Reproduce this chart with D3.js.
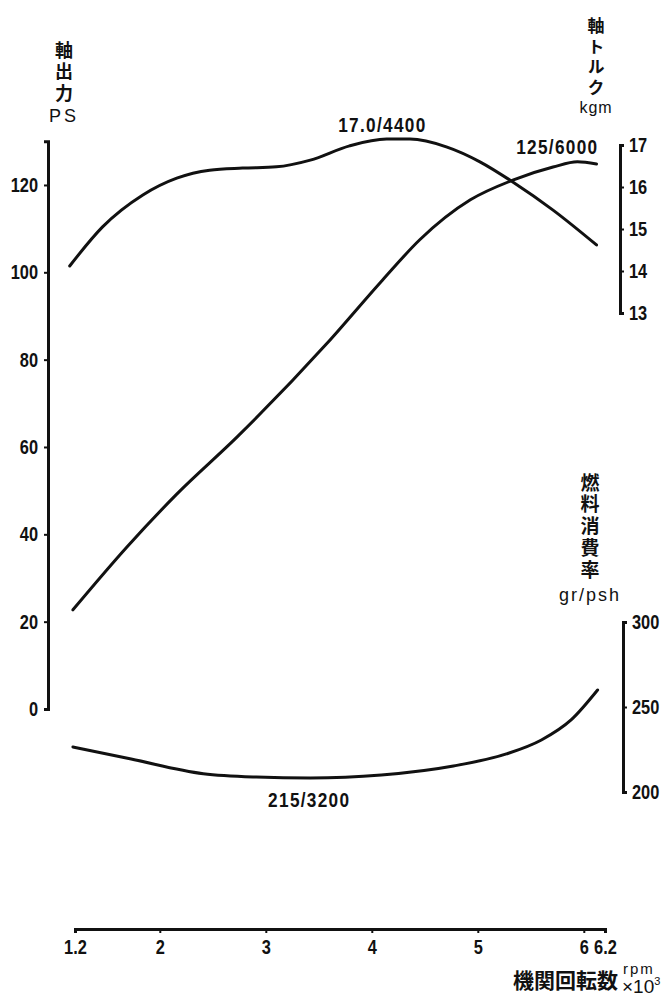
<!DOCTYPE html>
<html>
<head>
<meta charset="utf-8">
<script src="https://cdn.jsdelivr.net/npm/d3@7"></script>
<style>
    body { margin: 0; background: #fff; }
    svg { display: block; }
    .num, .note {
        font-family: "Liberation Sans", Arial, sans-serif;
        font-weight: bold;
        fill: #111;
        transform-box: fill-box;
        transform: scaleX(0.82);
    }
    .num { font-size: 20px; }
    .note { font-size: 21px; letter-spacing: 1.6px; transform-origin: 50% 50%; }
    .jp { font-family: "Noto Sans CJK JP", sans-serif; font-weight: bold; font-size: 18px; fill: #111; }
    .vert { writing-mode: vertical-rl; }
    .unit { font-family: "Liberation Sans", "Noto Sans", sans-serif; font-size: 17px; fill: #111; }
</style>
</head>
<body>
<div id="chart"></div>
<script>
// tick labels
const rpmTicks = [1.2, 2, 3, 4, 5, 6, 6.2];
const psTicks = [0, 20, 40, 60, 80, 100, 120];
const torqueTicks = [13, 14, 15, 16, 17];
const fuelTicks = [200, 250, 300];

// 軸出力 (PS)
const powerRpm = [1.18, 1.69, 2.16, 2.73, 3.58, 4.1, 4.45, 4.93, 5.33, 5.71, 5.94, 6.12];
const powerPS = [22.7, 37.1, 49.2, 62.3, 83.8, 98.2, 107.4, 116.6, 121.1, 124.1, 125.3, 124.8];

// 軸トルク (kgm)
const torqueRpm = [1.15, 1.46, 1.84, 2.16, 2.47, 2.78, 3.1, 3.42, 3.79, 4.14, 4.36, 4.71, 5.02, 5.33, 5.71, 6.12];
const torqueKgm = [14.12, 15.05, 15.81, 16.21, 16.4, 16.45, 16.48, 16.64, 16.98, 17.14, 17.14, 16.95, 16.6, 16.12, 15.45, 14.62];

// 燃料消費率 (gr/psh)
const fuelRpm = [1.18, 1.73, 2.41, 2.91, 3.42, 4.09, 4.77, 5.27, 5.6, 5.88, 6.13];
const fuelRate = [226.5, 219.4, 210.8, 208.8, 208.2, 210, 215.3, 222.4, 230.6, 242.4, 260];

// annotations: text, rpm, value
const torqueNote = ["17.0/4400", 4.1, 17.31];
const powerNote = ["125/6000", 5.75, 127.1];
const fuelNote = ["215/3200", 3.41, 191.2];

const width = 671;
const height = 997;

const x = d3.scaleLinear().domain([1.2, 6.2]).range([75, 605]);
const yPS = d3.scaleLinear().domain([0, 130]).range([709, 141.3]);
const yT = d3.scaleLinear().domain([13, 17]).range([313, 145]);
const yF = d3.scaleLinear().domain([200, 300]).range([792, 622]);

const svg = d3
    .select("#chart")
    .append("svg")
    .attr("width", width)
    .attr("height", height)
    .attr("viewBox", [0, 0, width, height]);

svg.append("rect").attr("width", width).attr("height", height).attr("fill", "#fff");

function styleAxis(origin) {
    return (g) => {
        g.select(".domain").attr("stroke", "#111").attr("stroke-width", 3);
        g.selectAll(".tick line").attr("stroke", "#111").attr("stroke-width", 2);
        g.selectAll(".tick text")
            .attr("class", "num")
            .attr("fill", "#111")
            .style("transform-origin", origin);
    };
}

svg.append("g")
    .attr("transform", "translate(48,0)")
    .call(d3.axisLeft(yPS).tickValues(psTicks).tickSizeInner(4).tickSizeOuter(4).tickPadding(6).tickFormat(d3.format("d")))
    .call(styleAxis("100% 50%"));

svg.append("g")
    .attr("transform", "translate(620,0)")
    .call(d3.axisRight(yT).tickValues(torqueTicks).tickSizeInner(4).tickSizeOuter(4).tickPadding(5).tickFormat(d3.format("d")))
    .call(styleAxis("0% 50%"));

svg.append("g")
    .attr("transform", "translate(623,0)")
    .call(d3.axisRight(yF).tickValues(fuelTicks).tickSizeInner(4).tickSizeOuter(4).tickPadding(5).tickFormat(d3.format("d")))
    .call(styleAxis("0% 50%"));

svg.append("g")
    .attr("transform", "translate(0,929)")
    .call(d3.axisBottom(x).tickValues(rpmTicks).tickSizeInner(4).tickSizeOuter(4).tickPadding(7)
        .tickFormat((d) => (Number.isInteger(d) ? d : d.toFixed(1))))
    .call(styleAxis("50% 50%"));

const curve = d3.curveMonotoneX;

function drawSeries(xs, ys, yScale) {
    svg.append("path")
        .datum(d3.zip(xs, ys))
        .attr("fill", "none")
        .attr("stroke", "#111")
        .attr("stroke-width", 3)
        .attr("stroke-linecap", "round")
        .attr("stroke-linejoin", "round")
        .attr("d", d3.line().x((d) => x(d[0])).y((d) => yScale(d[1])).curve(curve));
}

drawSeries(powerRpm, powerPS, yPS);
drawSeries(torqueRpm, torqueKgm, yT);
drawSeries(fuelRpm, fuelRate, yF);

[[torqueNote, yT], [powerNote, yPS], [fuelNote, yF]].forEach(([n, ys]) => {
    svg.append("text")
        .attr("class", "note")
        .attr("x", x(n[1]))
        .attr("y", ys(n[2]))
        .attr("text-anchor", "middle")
        .text(n[0]);
});

// stacked titles: vertical japanese text with the unit underneath
function stackTitle(label, unit, cx, top, charSize, spacing, unitY, unitSpacing, unitSize) {
    svg.append("text")
        .attr("class", "jp vert")
        .attr("x", cx)
        .attr("y", top)
        .style("font-size", charSize + "px")
        .style("letter-spacing", spacing + "px")
        .text(label);
    svg.append("text")
        .attr("class", "unit")
        .attr("x", cx)
        .attr("y", unitY)
        .attr("text-anchor", "middle")
        .style("letter-spacing", unitSpacing + "px")
        .style("font-size", unitSize + "px")
        .text(unit);
}

stackTitle("軸出力", "PS", 64, 41, 18, 3.5, 122, 3, 18);
stackTitle("軸トルク", "kgm", 596, 17, 17, 3.7, 113, 1, 16);
stackTitle("燃料消費率", "gr/psh", 590, 473, 19, 2.75, 601, 2, 18);

// x axis title
svg.append("text")
    .attr("class", "jp")
    .attr("x", 513)
    .attr("y", 988)
    .style("font-size", "21px")
    .text("機関回転数");
svg.append("text")
    .attr("class", "unit")
    .attr("x", 623)
    .attr("y", 974)
    .style("font-size", "15px")
    .style("letter-spacing", "2px")
    .text("rpm");
const mult = svg.append("text")
    .attr("class", "unit")
    .attr("x", 622)
    .attr("y", 993)
    .style("font-size", "19px");
mult.append("tspan").text("×10");
mult.append("tspan").attr("dy", -8).style("font-size", "11px").text("3");
</script>
</body>
</html>
